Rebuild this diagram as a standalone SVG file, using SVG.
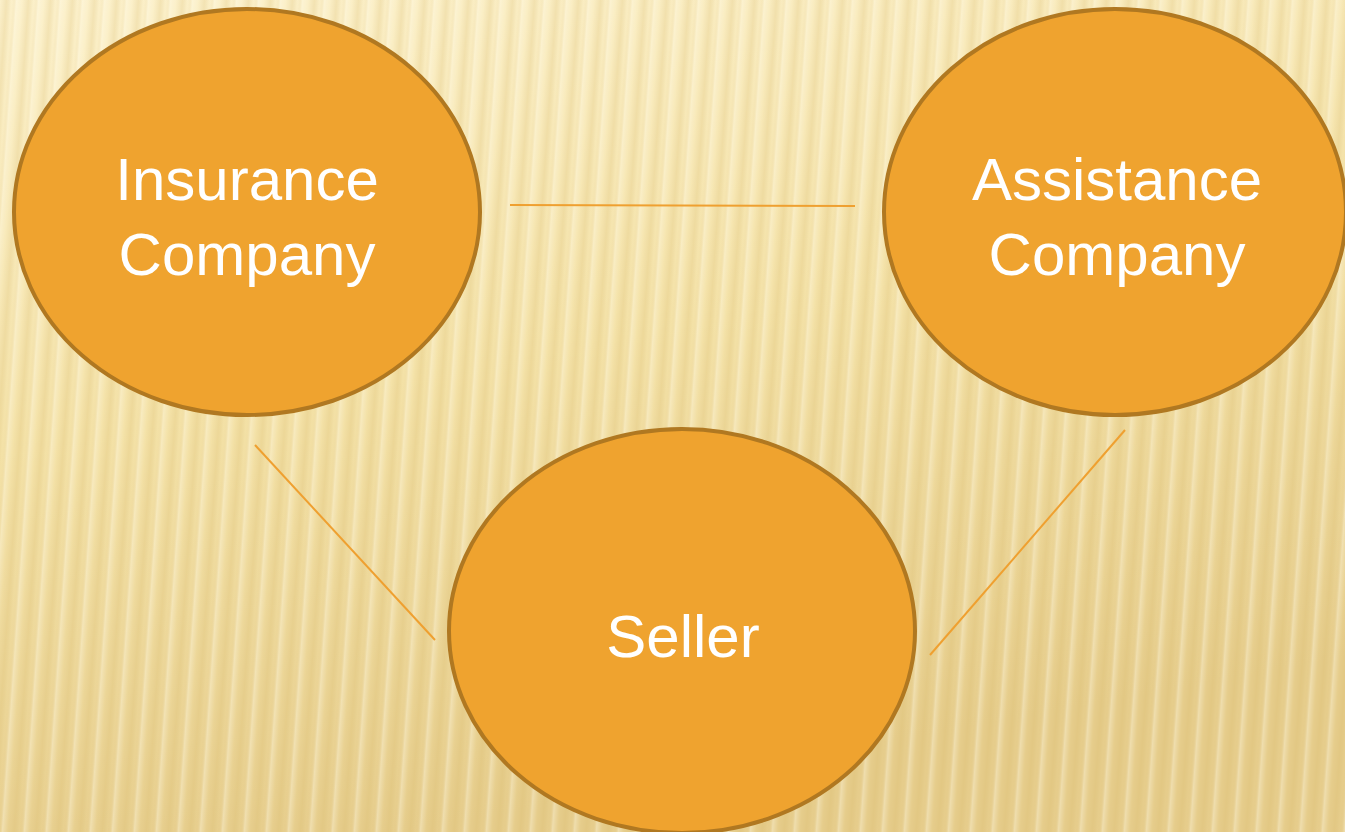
<svg xmlns="http://www.w3.org/2000/svg" width="1345" height="832" viewBox="0 0 1345 832">
  <defs>
    <linearGradient id="bg" x1="0" y1="0" x2="0.3" y2="1">
      <stop offset="0" stop-color="#FCF1CC"/>
      <stop offset="0.5" stop-color="#F4E2A8"/>
      <stop offset="1" stop-color="#E6CD8C"/>
    </linearGradient>
    <linearGradient id="stripe" x1="0" y1="0" x2="1" y2="0">
      <stop offset="0" stop-color="#D4B464" stop-opacity="0"/>
      <stop offset="0.3" stop-color="#D4B464" stop-opacity="0.22"/>
      <stop offset="0.55" stop-color="#D4B464" stop-opacity="0"/>
      <stop offset="0.75" stop-color="#FFFBEA" stop-opacity="0.35"/>
      <stop offset="1" stop-color="#FFFBEA" stop-opacity="0"/>
    </linearGradient>
    <pattern id="stripes" width="22" height="832" patternUnits="userSpaceOnUse" patternTransform="skewX(-4)">
      <rect x="0" y="0" width="22" height="832" fill="url(#stripe)"/>
    </pattern>
    <style>
      .node { fill: #EFA32F; stroke: #B07821; stroke-width: 4; }
      .label { font-family: "Liberation Sans", Arial, sans-serif; font-size: 60px; fill: #FFFFFF; text-anchor: middle; }
      .conn { stroke: #EFA030; stroke-width: 2; fill: none; }
    </style>
  </defs>
  <rect x="0" y="0" width="1345" height="832" fill="url(#bg)"/>
  <rect x="0" y="0" width="1345" height="832" fill="url(#stripes)"/>
  <g id="connectors">
    <line class="conn" x1="510" y1="205" x2="855" y2="206"/>
    <line class="conn" x1="255" y1="445" x2="435" y2="640"/>
    <line class="conn" x1="1125" y1="430" x2="930" y2="655"/>
  </g>
  <g id="insurance">
    <ellipse class="node" cx="247" cy="212" rx="233" ry="203"/>
    <text class="label" x="247" y="200">Insurance</text>
    <text class="label" x="247" y="275">Company</text>
  </g>
  <g id="assistance">
    <ellipse class="node" cx="1115" cy="212" rx="231" ry="203"/>
    <text class="label" x="1117" y="200">Assistance</text>
    <text class="label" x="1117" y="275">Company</text>
  </g>
  <g id="seller">
    <ellipse class="node" cx="682" cy="631" rx="233" ry="202"/>
    <text class="label" x="683" y="657">Seller</text>
  </g>
</svg>
